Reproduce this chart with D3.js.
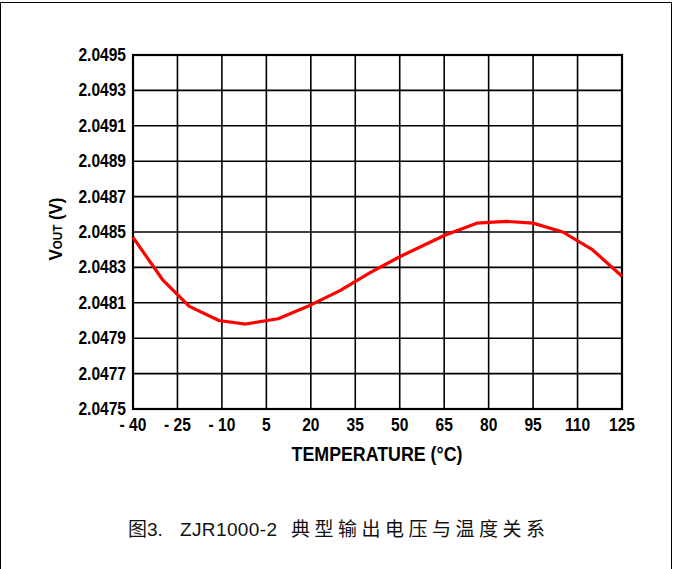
<!DOCTYPE html>
<html>
<head>
  <meta charset="utf-8">
  <script src="https://d3js.org/d3.v7.min.js"></script>
  <style>
    body { margin: 0; background: #fff; }
    .lbl { font-family: "Liberation Sans", Arial, sans-serif; font-weight: bold; }
  </style>
</head>
<body>
<svg width="673" height="569"></svg>
<script>
  // temperature (°C) and output voltage (V)
  const temps = [-40, -30, -21, -11, -2, 9, 19, 30, 40, 50, 65, 76, 86, 95, 105, 115, 125];
  const vout = [2.04847, 2.04823, 2.04808, 2.04800, 2.04798, 2.04801, 2.04808, 2.04817, 2.04827,
                2.04836, 2.04848, 2.04855, 2.04856, 2.04855, 2.04850, 2.04840, 2.04825];
  const xTicks = [-40, -25, -10, 5, 20, 35, 50, 65, 80, 95, 110, 125];
  const yTicks = [2.0475, 2.0477, 2.0479, 2.0481, 2.0483, 2.0485, 2.0487, 2.0489, 2.0491, 2.0493, 2.0495];

  const svg = d3.select("svg");
  const squeeze = 0.89; // labels in the original are a condensed bold face

  // outer frame
  svg.append("path")
    .attr("d", "M0.5,575 V2.5 H671.5 V575")
    .attr("fill", "none")
    .attr("stroke", "#000")
    .attr("stroke-width", 1);

  const x = d3.scaleLinear().domain([-40, 125]).range([133, 622]);
  const y = d3.scaleLinear().domain([2.0475, 2.0495]).range([409, 55]);

  const grid = svg.append("g");
  grid.selectAll("line.v")
    .data(xTicks)
    .enter().append("line")
    .attr("class", "v")
    .attr("x1", d => x(d)).attr("x2", d => x(d))
    .attr("y1", y(2.0475)).attr("y2", y(2.0495))
    .attr("stroke", "#000")
    .attr("stroke-width", 1.6);
  grid.selectAll("line.h")
    .data(yTicks)
    .enter().append("line")
    .attr("class", "h")
    .attr("x1", x(-40)).attr("x2", x(125))
    .attr("y1", d => y(d)).attr("y2", d => y(d))
    .attr("stroke", "#000")
    .attr("stroke-width", 1.6);

  svg.append("rect")
    .attr("x", x(-40)).attr("y", y(2.0495))
    .attr("width", x(125) - x(-40))
    .attr("height", y(2.0475) - y(2.0495))
    .attr("fill", "none")
    .attr("stroke", "#000")
    .attr("stroke-width", 2.2);

  // y tick labels
  svg.append("g").selectAll("text")
    .data(yTicks)
    .enter().append("text")
    .attr("class", "lbl")
    .attr("transform", d => `translate(126,${y(d) + 6}) scale(${squeeze},1)`)
    .attr("text-anchor", "end")
    .attr("font-size", 17.5)
    .text(d => d.toFixed(4));

  // x tick labels
  svg.append("g").selectAll("text")
    .data(xTicks)
    .enter().append("text")
    .attr("class", "lbl")
    .attr("transform", d => `translate(${x(d)},431) scale(${squeeze},1)`)
    .attr("text-anchor", "middle")
    .attr("font-size", 17.5)
    .text(d => d < 0 ? "- " + Math.abs(d) : d);

  // axis titles
  svg.append("text")
    .attr("class", "lbl")
    .attr("transform", `translate(377,461) scale(${squeeze},1)`)
    .attr("text-anchor", "middle")
    .attr("font-size", 20)
    .text("TEMPERATURE (°C)");

  const yl = svg.append("text")
    .attr("class", "lbl")
    .attr("transform", `translate(62,229) rotate(-90) scale(${squeeze},1)`)
    .attr("text-anchor", "middle")
    .attr("font-size", 19);
  yl.append("tspan").text("V");
  yl.append("tspan").attr("font-size", 13).text("OUT");
  yl.append("tspan").text(" (V)");

  // curve
  const line = d3.line()
    .x((d, i) => x(temps[i]))
    .y(d => y(d));

  svg.append("path")
    .datum(vout)
    .attr("d", line)
    .attr("fill", "none")
    .attr("stroke", "#ff0000")
    .attr("stroke-width", 3.2)
    .attr("stroke-linejoin", "round");

  // caption
  const cap = svg.append("g").attr("font-size", 19).attr("fill", "#111");
  cap.append("text")
    .attr("x", 128).attr("y", 536)
    .attr("font-family", "'Noto Sans CJK SC', sans-serif")
    .text("图");
  cap.append("text")
    .attr("x", 147).attr("y", 536)
    .attr("font-family", "'Liberation Sans', Arial, sans-serif")
    .text("3.");
  cap.append("text")
    .attr("x", 180).attr("y", 536)
    .attr("font-family", "'Liberation Sans', Arial, sans-serif")
    .attr("textLength", 97)
    .text("ZJR1000-2");
  cap.append("text")
    .attr("x", 291).attr("y", 536)
    .attr("font-family", "'Noto Sans CJK SC', sans-serif")
    .attr("letter-spacing", 4.5)
    .text("典型输出电压与温度关系");
</script>
</body>
</html>
